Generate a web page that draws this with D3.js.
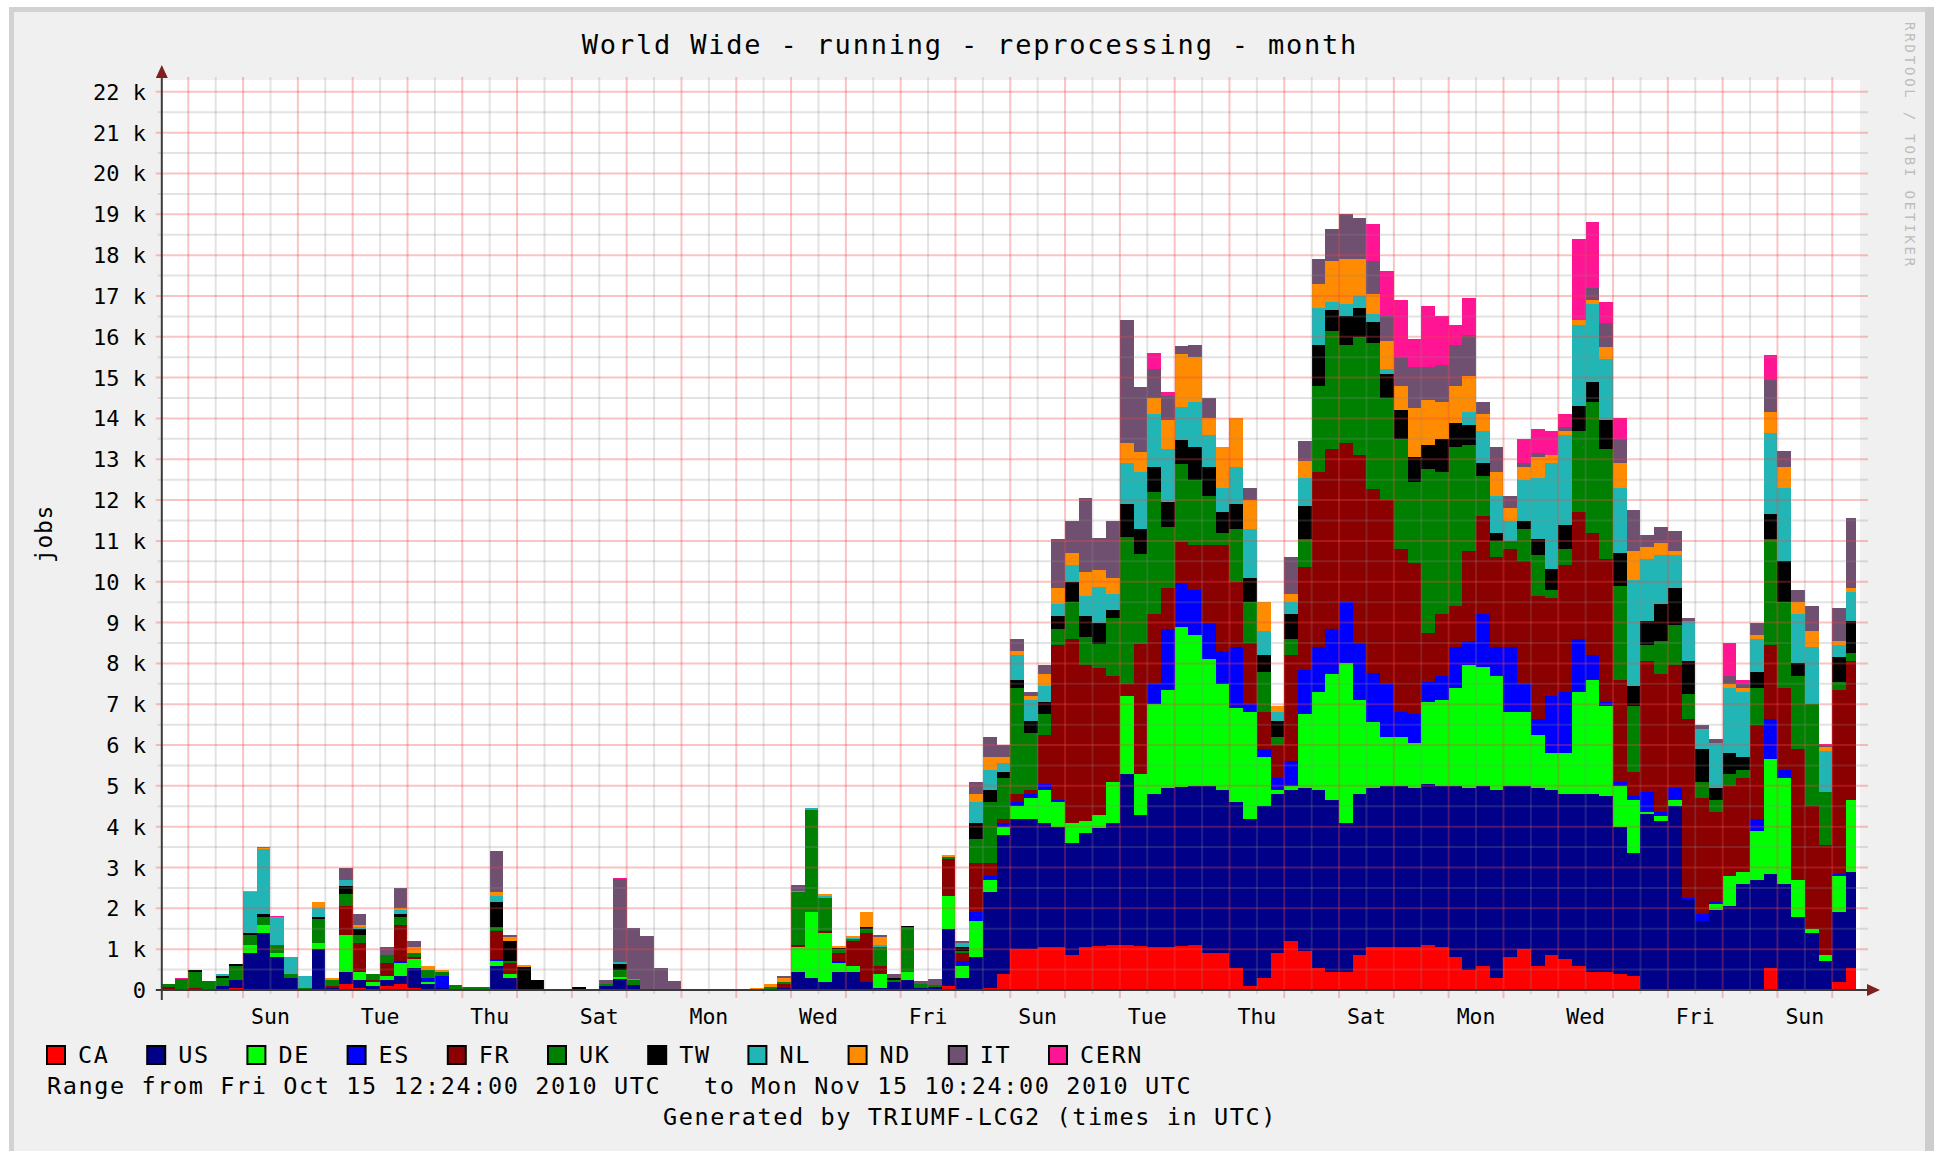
<!DOCTYPE html>
<html><head><meta charset="utf-8">
<script src="https://cdn.jsdelivr.net/npm/d3@7"></script>
<style>
html,body{margin:0;padding:0;background:#fff;}
svg{display:block;}
text{font-family:"DejaVu Sans Mono",monospace;fill:#000;}
</style></head><body>
<svg id="c" width="1934" height="1151"></svg>
<script>
// ---------------- DATA (thousands of running jobs, 6-hour slots from Fri Oct 15 12:00 UTC) ----------------
const seriesNames = ["CA","US","DE","ES","FR","UK","TW","NL","ND","IT","CERN"];
const seriesColors = ["#ff0000","#000088","#00ff00","#0000ff","#8b0000","#008000","#000000","#22b5b5","#ff8c00","#705070","#ff1493"];

const CA = [0,0,0,0,0,0.05,0,0,0,0, 0,0,0,0.15,0.05,0,0.1,0.15,0.05,0, 0,0,0,0,0,0,0,0,0,0, 0,0,0,0,0,0,0,0,0,0, 0,0,0,0,0,0,0,0,0,0, 0,0,0,0,0,0,0.02,0.1,0,0,
  0.05,0.4,1.0,1.0,1.05,1.05,0.85,1.05,1.08,1.1, 1.1,1.08,1.05,1.05,1.08,1.1,0.9,0.9,0.55,0.1, 0.3,0.9,1.2,0.95,0.55,0.45,0.45,0.85,1.06,1.06,
  1.05,1.05,1.1,1.05,0.8,0.5,0.6,0.3,0.8,1.0, 0.6,0.85,0.75,0.6,0.45,0.45,0.4,0.35,0,0, 0,0,0,0,0,0,0,0.55,0,0, 0,0,0.2,0.55];
const US = [0.02,0,0.02,0.03,0.1,0.2,0.9,1.4,0.8,0.3, 0,1.0,0.05,0.3,0.2,0.1,0.15,0.2,0.5,0.15, 0.05,0.03,0,0.02,0.6,0.3,0.02,0,0,0, 0,0,0.1,0.28,0.12,0.02,0,0,0,0, 0,0,0,0,0.02,0.05,0.45,0.3,0.2,0.45, 0.45,0.2,0.05,0.2,0.25,0.05,0.05,1.4,0.3,0.8,
  2.35,3.4,3.2,3.2,3.05,2.95,2.75,2.8,2.9,3.0, 4.2,3.2,3.75,3.9,3.9,3.9,4.1,4.0,4.05,4.1, 4.2,3.9,3.7,4.0,4.35,4.2,3.65,3.95,3.9,3.94,
  3.95,3.9,3.95,3.95,4.2,4.45,4.4,4.6,4.2,4.0, 4.35,4.05,4.05,4.2,4.35,4.3,3.6,3.0,4.3,4.15, 4.5,2.2,1.7,1.95,2.05,2.6,2.7,2.3,2.6,1.8, 1.4,0.7,1.7,2.35];
const DE = [0,0,0,0,0,0,0.2,0.2,0.1,0, 0,0.15,0,0.9,0.2,0.1,0.1,0.3,0.2,0.05, 0,0,0,0,0.1,0.1,0,0,0,0, 0,0,0,0.05,0,0,0,0,0,0, 0,0,0,0,0,0,0.6,1.6,1.2,0.2, 0.15,0,0.35,0,0.2,0,0,0.8,0.3,0.9,
  0.3,0.2,0.3,0.5,0.8,0.6,0.5,0.3,0.3,1.0, 1.9,1.0,2.2,2.4,3.9,3.7,3.1,2.6,2.3,2.6, 1.2,0.1,0.1,1.8,2.4,3.1,3.9,2.3,1.6,1.2,
  1.2,1.1,2.0,2.1,2.4,3.0,2.9,2.8,1.8,1.8, 1.3,0.9,1.0,2.5,2.8,2.2,1.0,1.3,0.05,0.1, 0.15,0,0,0.15,0.75,0.3,1.2,2.8,2.6,0.9, 0.1,0.15,0.9,1.75];
const ES = [0,0,0,0,0,0,0,0,0,0, 0,0,0,0,0,0,0,0.05,0,0.1, 0.3,0,0,0,0.05,0,0,0,0,0, 0,0,0,0,0,0,0,0,0,0, 0,0,0,0,0,0,0,0,0,0.05, 0,0,0,0,0,0,0,0,0.1,0.2,
  0.1,0.1,0.1,0.1,0.15,0.05,0,0,0,0, 0,0,0.5,1.5,1.1,1.1,0.9,0.8,1.5,0.2, 0.2,0.3,0.6,1.1,1.1,1.1,1.5,1.4,1.2,1.3,
  0.6,0.7,0.5,0.6,1.0,0.6,1.3,0.7,1.6,0.7, 0.4,1.4,1.5,1.3,0.6,0.1,0.1,0.1,0.5,0.1, 0.3,0.05,0.15,0.05,0,0,0.3,1.0,0.2,0, 0,0,0.05,0];
const FR = [0.05,0.03,0.03,0,0,0,0,0,0,0, 0,0,0.05,0.7,0.7,0.05,0.3,0.9,0.05,0, 0,0,0,0,0.7,0.25,0,0,0,0, 0,0,0,0,0,0,0,0,0,0, 0,0,0,0,0,0.1,0.05,0,0.05,0.2, 0.6,1.2,0.2,0,0,0,0,0.9,0.2,1.2,
  0.3,0.1,0.2,0.1,1.2,3.8,4.5,3.8,3.6,2.6, 0.3,3.2,1.7,1.0,1.0,1.1,1.9,2.6,1.6,1.5, 0.9,0.8,2.6,2.5,4.3,4.4,3.9,4.6,4.5,4.5,
  4.0,3.7,1.2,1.5,1.0,2.2,2.4,2.2,2.4,3.0, 3.0,2.4,3.1,3.1,3.0,3.5,2.5,0.6,3.2,3.4, 3.0,4.4,2.85,2.2,2.2,2.3,2.3,1.8,2.0,3.2, 3.0,2.7,4.5,3.4];
const UK = [0.08,0.25,0.4,0.2,0.2,0.35,0.25,0.2,0.2,0.1, 0.05,0.6,0.15,0.3,0.2,0.15,0.2,0.2,0.1,0.2, 0.1,0.1,0.08,0.05,0.1,0.05,0,0,0.02,0.02, 0.02,0.03,0.05,0.15,0.12,0,0,0,0.03,0.02, 0.02,0.02,0.02,0.03,0.05,0.05,1.3,2.5,0.8,0.1, 0.05,0.1,0.45,0.05,1.1,0.1,0.05,0.05,0.05,0.6,
  1.5,1.0,2.6,1.4,0.5,0.4,0.9,0.7,0.6,1.4, 3.6,2.2,3.0,1.5,1.9,1.6,1.2,0.3,1.3,1.0, 1.0,0.2,0.4,0.7,2.1,2.9,2.4,2.9,3.6,2.5,
  2.7,2.0,4.0,3.5,3.9,2.6,1.0,0.4,0.2,0.8, 1.0,0.2,0.4,2.0,3.2,2.7,2.3,1.6,0.4,0.8, 1.0,0.6,0.4,0.3,0.3,0.2,0.9,2.6,2.1,1.8, 2.5,1.3,0.2,0.2];
const TW = [0,0,0.03,0,0.05,0.03,0.05,0.05,0,0, 0,0.05,0,0.2,0.15,0,0,0.05,0,0, 0,0,0,0,0.6,0.5,0.55,0.25,0,0, 0.05,0,0,0.15,0,0,0,0,0,0, 0,0,0,0,0,0,0,0.02,0,0.02, 0,0.05,0,0.05,0.02,0,0,0,0.1,0.4,
  0.3,0.15,0.2,0.3,0.3,0.3,0.5,0.5,0.5,0.2, 0.8,0.6,0.6,0.6,0.6,0.8,0.7,0.5,0.6,0.6, 0.4,0.4,0.6,0.8,1.0,0.5,0.7,0.7,0.5,0.6,
  0.7,0.6,0.6,0.8,0.6,0.5,0.3,0.2,0,0.2, 0.4,0.5,0.6,0.6,0.5,0.7,0.8,0.5,0.6,0.9, 0.9,0.8,0.8,0.3,0.5,0.3,0.4,0.6,1.0,0.3, 0,0,0.6,0.8];
const NL = [0,0,0,0,0.05,0,1.0,1.6,0.7,0.4, 0.3,0.2,0,0.15,0.05,0,0,0.1,0,0, 0,0,0,0,0.15,0,0,0,0,0, 0,0,0,0.05,0.02,0,0,0,0,0, 0,0,0,0,0,0,0.02,0.05,0.05,0, 0.03,0,0.05,0,0,0,0,0,0.1,0.5,
  0.5,0.2,0.6,0.5,0.4,0.3,0.4,0.5,0.9,0.4, 1.0,1.4,1.3,1.3,0.8,1.1,0.8,0.6,0.9,1.2, 0.6,0.2,0.3,0.7,0.9,0.2,0.3,0.3,0.2,0.1,
  0,0,0,0,0,0.3,0.8,0.9,0.5,1.0, 1.5,2.6,2.2,2.0,1.9,1.5,1.6,2.6,1.5,1.2, 0.8,1.0,0.5,1.1,1.6,1.6,0.8,2.0,1.8,1.2, 1.4,1.0,0.3,0.7];
const ND = [0,0,0,0,0,0,0.02,0.03,0,0, 0,0.15,0.05,0,0.05,0,0,0.05,0.15,0.1, 0.03,0,0,0,0.1,0.1,0.05,0,0,0, 0,0,0,0,0,0,0,0,0,0, 0,0,0,0.02,0.07,0.1,0,0,0.05,0.05, 0.05,0.35,0.2,0,0,0,0,0.05,0,0.2,
  0.3,0.15,0.1,0.1,0.3,0.4,0.3,0.6,0.4,0.4, 0.5,0.5,0.4,0.7,1.3,1.1,0.4,1.0,1.2,0.7, 0.7,0.15,0.2,0.4,0.6,1.0,1.1,0.9,0.5,0.7,
  0.6,1.2,1.1,0.9,0.9,0.9,0.4,0.6,0.3,0.3, 0.5,0.2,0.1,0.1,0.1,0.3,0.6,0.7,0.3,0.3, 0.1,0,0,0,0.1,0.1,0.1,0.5,0.5,0.3, 0.4,0.1,0.1,0.1];
const IT = [0,0,0.02,0,0,0,0,0,0,0, 0,0,0,0.3,0.25,0,0.2,0.5,0.15,0, 0,0,0,0,1.0,0.05,0,0,0,0, 0,0,0.1,2.05,1.25,1.3,0.55,0.22,0,0, 0,0,0,0,0,0.05,0.15,0,0,0, 0,0.02,0.05,0.1,0,0.08,0.15,0,0.05,0.3,
  0.5,0.3,0.3,0.1,0.2,1.2,0.8,1.8,0.8,1.4, 3.0,1.6,0.7,0.6,0.2,0.3,0.5,0,0,0.3, 0,0,0.9,0.5,0.6,0.8,1.1,1.0,0.8,0.6,
  0.7,1.0,0.8,0.9,1.0,1.0,0.3,0.6,0.3,0.1, 0.1,0,0.1,0,0.3,0.6,0.6,1.0,0.3,0.4, 0.5,0.05,0.1,0.1,0.2,0.1,0.3,0.8,0.4,0.3, 0.6,0.05,0.8,1.7];
const CERN = [0,0.02,0,0,0,0,0,0.02,0.02,0, 0,0,0,0,0,0,0,0,0,0, 0,0,0,0,0,0,0,0,0,0, 0,0,0,0.02,0,0,0,0,0,0, 0,0,0,0,0,0,0,0,0,0, 0,0,0,0,0,0,0,0,0,0,
  0,0,0,0,0,0,0,0,0,0, 0,0,0.4,0.1,0,0,0,0,0,0, 0,0,0,0,0,0,0,0,0.9,1.1,
  1.4,0.7,1.5,1.2,0.5,0.9,0,0,0,0.6, 0.6,0.6,0.3,2.0,1.6,0.5,0.5,0,0,0, 0,0,0,0,0.8,0.1,0,0.6,0,0, 0,0.02,0,0];
const seriesValues = [CA,US,DE,ES,FR,UK,TW,NL,ND,IT,CERN];

const yTickValues = d3.range(0, 23);          // 0 .. 22 k
const yTickLabels = yTickValues.map(v => v === 0 ? "0" : v + " k");
const xLabelNames = ["Sun","Tue","Thu","Sat","Mon","Wed","Fri","Sun","Tue","Thu","Sat","Mon","Wed","Fri","Sun"];
const xLabelDays  = ["2010-10-17","2010-10-19","2010-10-21","2010-10-23","2010-10-25","2010-10-27","2010-10-29",
                     "2010-10-31","2010-11-02","2010-11-04","2010-11-06","2010-11-08","2010-11-10","2010-11-12","2010-11-14"];

const titleText = "World Wide - running - reprocessing - month";
const rangeText1 = "Range from Fri Oct 15 12:24:00 2010 UTC";
const rangeText2 = "to Mon Nov 15 10:24:00 2010 UTC";
const footerText = "Generated by TRIUMF-LCG2 (times in UTC)";
const watermark = "RRDTOOL / TOBI OETIKER";

// ---------------- LAYOUT ----------------
const svg = d3.select("#c");
const tStart = new Date(Date.UTC(2010, 9, 15, 12, 24));
const tEnd   = new Date(Date.UTC(2010, 10, 15, 10, 24));
const firstSlot = Date.UTC(2010, 9, 15, 12, 0);
const stepMs = 6 * 3600 * 1000;
const X0 = 161.8, X1 = 1856, YB = 990, YT = 80;
const x = d3.scaleUtc().domain([tStart, tEnd]).range([X0, X1]);
const y = d3.scaleLinear().domain([0, 22.29]).range([YB, YT]);

// frame
svg.append("rect").attr("x", 9).attr("y", 7).attr("width", 1925).attr("height", 1150).attr("fill", "#f0f0f0");
svg.append("rect").attr("x", 9).attr("y", 7).attr("width", 1925).attr("height", 5).attr("fill", "#d2d2d2");
svg.append("rect").attr("x", 9).attr("y", 7).attr("width", 5).attr("height", 1150).attr("fill", "#d2d2d2");
svg.append("rect").attr("x", 1925).attr("y", 7).attr("width", 9).attr("height", 1150).attr("fill", "#cdcdcd");

// canvas
svg.append("rect").attr("x", X0).attr("y", YT).attr("width", 1860 - X0).attr("height", YB - YT).attr("fill", "#fff");

// data rows
const N = CA.length;
const rows = d3.range(N + 1).map(i => {
  const r = { t: new Date(firstSlot + i * stepMs) };
  seriesNames.forEach((s, k) => r[s] = seriesValues[k][Math.min(i, N - 1)]);
  return r;
});
const stacked = d3.stack().keys(seriesNames)(rows);

svg.append("clipPath").attr("id", "plotclip").append("rect")
  .attr("x", X0).attr("y", YT).attr("width", X1 - X0).attr("height", YB - YT);

const area = d3.area().curve(d3.curveStepAfter)
  .x(d => x(d.data.t)).y0(d => y(d[0])).y1(d => y(d[1]));

svg.append("g").attr("clip-path", "url(#plotclip)")
  .selectAll("path").data(stacked).join("path")
  .attr("d", area).attr("fill", (d, k) => seriesColors[k])
  .attr("shape-rendering", "crispEdges");

// grid (drawn on top like rrdtool)
const grid = svg.append("g");
const minorCol = "rgba(140,140,140,0.24)";
const majorCol = "rgba(235,70,70,0.32)";
const minorY = d3.range(0.5, 22.3, 1);
grid.selectAll("line.hmin").data(minorY).join("line")
  .attr("x1", X0 - 4).attr("x2", 1868).attr("y1", d => y(d)).attr("y2", d => y(d))
  .attr("stroke", minorCol).attr("stroke-width", 2);
const midnights = d3.utcDay.range(tStart, tEnd);
const noons = d3.utcHour.every(12).range(tStart, tEnd).filter(d => d.getUTCHours() === 12);
grid.selectAll("line.vmin").data(noons).join("line")
  .attr("x1", d => x(d)).attr("x2", d => x(d)).attr("y1", YT - 3).attr("y2", YB + 4)
  .attr("stroke", minorCol).attr("stroke-width", 2);
grid.selectAll("line.hmaj").data(yTickValues.filter(v => v > 0)).join("line")
  .attr("x1", X0 - 6).attr("x2", 1868).attr("y1", d => y(d)).attr("y2", d => y(d))
  .attr("stroke", majorCol).attr("stroke-width", 2);
grid.selectAll("line.vmaj").data(midnights).join("line")
  .attr("x1", d => x(d)).attr("x2", d => x(d)).attr("y1", YT - 3).attr("y2", YB + 8)
  .attr("stroke", majorCol).attr("stroke-width", 2);

// axes
svg.append("line").attr("x1", X0).attr("x2", X0).attr("y1", YB + 10).attr("y2", 72)
  .attr("stroke", "#3a3a3a").attr("stroke-width", 2);
svg.append("line").attr("x1", X0 - 6).attr("x2", 1870).attr("y1", YB).attr("y2", YB)
  .attr("stroke", "#3a3a3a").attr("stroke-width", 2);
svg.append("path").attr("d", `M${X0 - 6},78 L${X0},65 L${X0 + 6},78 Z`).attr("fill", "#7f1f1f");
svg.append("path").attr("d", `M1867,${YB - 6} L1880,${YB} L1867,${YB + 6} Z`).attr("fill", "#7f1f1f");

// y tick labels
svg.append("g").selectAll("text").data(yTickValues).join("text")
  .attr("x", 146).attr("y", d => y(d) + 8).attr("text-anchor", "end")
  .attr("font-size", 22).text((d, i) => yTickLabels[i]);

// x labels at noon of each labelled day
const parseDay = d3.utcParse("%Y-%m-%d");
svg.append("g").selectAll("text").data(xLabelDays).join("text")
  .attr("x", d => x(d3.utcHour.offset(parseDay(d), 12)))
  .attr("y", 1024).attr("text-anchor", "middle").attr("font-size", 21.5)
  .text((d, i) => xLabelNames[i]);

// title
svg.append("text").attr("x", 970).attr("y", 54).attr("text-anchor", "middle")
  .attr("font-size", 27).attr("letter-spacing", 1.8).text(titleText);

// y unit
svg.append("text").attr("transform", "translate(52,534) rotate(-90)").attr("text-anchor", "middle")
  .attr("font-size", 23).attr("letter-spacing", 0.6).text("jobs");

// legend
const lg = svg.append("g");
seriesNames.forEach((s, k) => {
  const lx = 46 + k * 100.2;
  lg.append("rect").attr("x", lx + 1).attr("y", 1046).attr("width", 18).attr("height", 18)
    .attr("fill", seriesColors[k]).attr("stroke", "#000").attr("stroke-width", 2);
  lg.append("text").attr("x", lx + 32).attr("y", 1063).attr("font-size", 23.5)
    .attr("letter-spacing", 1.6).text(s);
});
svg.append("text").attr("x", 47).attr("y", 1094).attr("font-size", 23.5).attr("letter-spacing", 1.6).text(rangeText1);
svg.append("text").attr("x", 704).attr("y", 1094).attr("font-size", 23.5).attr("letter-spacing", 1.6).text(rangeText2);
svg.append("text").attr("x", 970).attr("y", 1125).attr("text-anchor", "middle").attr("font-size", 23.5)
  .attr("letter-spacing", 1.6).text(footerText);

// watermark
svg.append("text").attr("transform", "translate(1905,22) rotate(90)")
  .attr("font-size", 14).attr("letter-spacing", 2.8).style("fill", "#bdbdbd").text(watermark);
</script>
</body></html>
